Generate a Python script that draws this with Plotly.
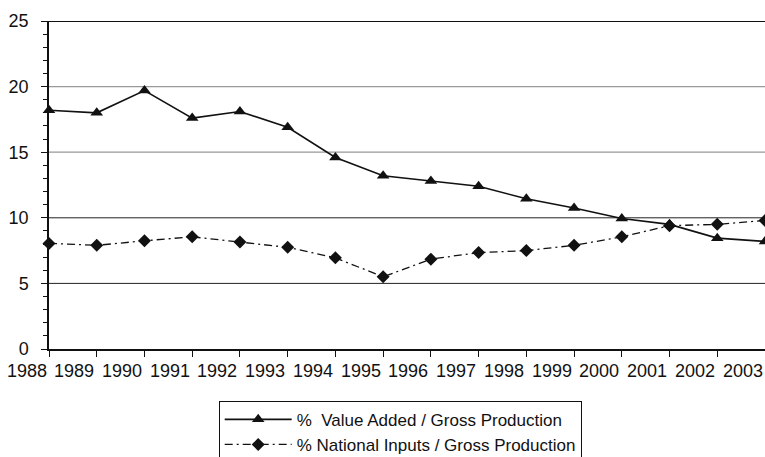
import plotly.graph_objects as go

years = [str(y) for y in range(1988, 2004)]
value_added = [18.2, 18.0, 19.7, 17.6, 18.1, 16.9, 14.6, 13.2, 12.8, 12.4,
               11.45, 10.75, 9.95, 9.5, 8.45, 8.2]
national_inputs = [8.05, 7.9, 8.25, 8.55, 8.15, 7.75, 6.95, 5.5, 6.85, 7.35,
                   7.5, 7.9, 8.55, 9.4, 9.5, 9.8]
y_ticks = [0, 5, 10, 15, 20, 25]

FONT = "Liberation Sans, Arial"
idx = list(range(len(years)))
n = len(years)

fig = go.Figure()
fig.add_trace(go.Scatter(
    x=idx, y=value_added, mode="lines+markers",
    name="%  Value Added / Gross Production",
    line=dict(color="#111", width=1.6),
    marker=dict(symbol="triangle-up", size=11, color="#111"),
    cliponaxis=False,
))
fig.add_trace(go.Scatter(
    x=idx, y=national_inputs, mode="lines+markers",
    name="% National Inputs / Gross Production",
    line=dict(color="#111", width=1.3, dash="8px,4px,2px,4px"),
    marker=dict(symbol="diamond", size=10, color="#111"),
    cliponaxis=False,
))

# gridlines
grid_colors = {5: "#222", 10: "#222", 15: "#999", 20: "#999"}
for v in y_ticks[1:-1]:
    fig.add_shape(type="line", xref="paper", yref="y", x0=0, x1=1, y0=v, y1=v,
                  line=dict(color=grid_colors[v], width=1.3 if v >= 15 else 1), layer="below")
fig.add_shape(type="line", xref="paper", yref="y", x0=0, x1=1, y0=25, y1=25,
              line=dict(color="#111", width=2.2), layer="below")

# x labels, placed about half a step left of each tick
for i, yr in enumerate(years):
    fig.add_annotation(x=(i - 0.47) / (n - 1), y=0, xref="paper", yref="paper", text=yr,
                       showarrow=False, xanchor="center", yanchor="top", yshift=-10,
                       font=dict(family=FONT, size=18, color="#111"))

fig.update_layout(
    width=765, height=457,
    margin=dict(l=49, r=0, t=21, b=108, autoexpand=False),
    paper_bgcolor="white", plot_bgcolor="white",
    showlegend=True,
    legend=dict(x=0.237, y=-0.158, xanchor="left", yanchor="top",
                bordercolor="#111", borderwidth=1,
                font=dict(family=FONT, size=17, color="#111"),
                itemwidth=67, tracegroupgap=0),
    xaxis=dict(range=[0, n - 1], tickvals=idx, ticktext=[""] * n, automargin=False,
               ticks="outside", ticklen=6, tickcolor="#111", tickwidth=1.2,
               showgrid=False, zeroline=False, showline=True, linecolor="#111", linewidth=1.5),
    yaxis=dict(range=[0, 25], tickvals=y_ticks, ticks="outside", ticklen=6, automargin=False,
               ticklabelstandoff=9,
               tickcolor="#111", tickwidth=1.2, showgrid=False, zeroline=False,
               showline=True, linecolor="#111", linewidth=1.5,
               tickfont=dict(family=FONT, size=18, color="#111"),
               minor=dict(dtick=1, ticks="outside", ticklen=4, tickcolor="#111", showgrid=False)),
)

fig.write_html("out.html", config={"displayModeBar": False},
               post_script="document.body.style.margin='0';")
